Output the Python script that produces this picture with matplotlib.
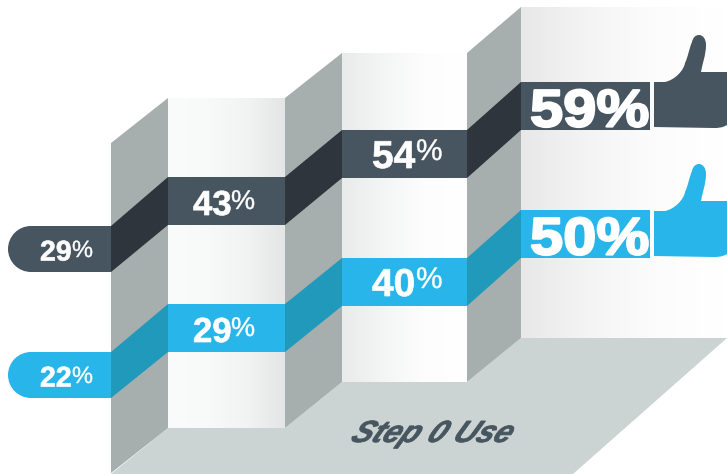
import matplotlib
matplotlib.use("Agg")
import matplotlib.pyplot as plt
import matplotlib.patheffects as pe
import numpy as np
from matplotlib.colors import LinearSegmentedColormap
from matplotlib.patches import Circle, PathPatch, Polygon, Rectangle
from matplotlib.path import Path
from matplotlib.transforms import Affine2D

# values, one per step
dark_labels = ["29", "43", "54", "59"]
light_labels = ["22", "29", "40", "50"]
category = "Step 0 Use"

dark = "#46555f"
dark_side = "#2e353d"
light = "#27b5ea"
light_side = "#2199bb"
wall = "#a6afad"
floor = "#ccd4d3"

# layout in pixels
col_x = [(168, 285), (342, 467), (521, 650)]
side_x = [(111, 168), (285, 342), (467, 521)]
top = [143, 98, 53, 7]
bottom = [473, 428, 382, 338]
dark_y = [226, 177, 130, 82]
light_y = [352, 304, 258, 210]
band_h = 48
text_x = [193, 372]
digit_pt = [25, 28]
pct_pt = [19.5, 21.5]

fig = plt.figure(figsize=(7.27, 4.75), dpi=100)
ax = fig.add_axes([0, 0, 1, 1])
ax.set_xlim(0, 727)
ax.set_ylim(475, 0)
ax.axis("off")


class Warp(pe.AbstractPathEffect):
    # fonts here are not as wide or as slanted as the ones in the picture
    def __init__(self, skew=0, xscale=1, stroke=0):
        super().__init__()
        self.skew = skew
        self.xscale = xscale
        self.stroke = stroke

    def draw_path(self, renderer, gc, tpath, affine, rgbFace=None):
        tr = Affine2D().scale(self.xscale, 1).skew_deg(self.skew, 0) + affine
        gc0 = renderer.new_gc()
        gc0.copy_properties(gc)
        gc0.set_linewidth(self.stroke)
        gc0.set_foreground(rgbFace)
        renderer.draw_path(gc0, tpath, tr, rgbFace)
        gc0.restore()


def gradient(x0, x1, y0, y1, colors):
    cmap = LinearSegmentedColormap.from_list("g", colors)
    ax.imshow(np.linspace(0, 1, 256).reshape(1, -1), cmap=cmap, aspect="auto",
              extent=(x0, x1, y1, y0), zorder=1)


# floor
ax.add_patch(Polygon([(111, 474), (168, 428), (285, 428), (342, 382), (467, 382), (521, 338),
                      (727, 338), (573, 474)], fc=floor, ec="none", zorder=1))

# white panels
gradient(168, 285, 98, 428, ["#fafbfb", "#f8f9f9", "#f2f3f3", "#e4e6e6"])
gradient(342, 467, 53, 382, ["#e9eaea", "#f4f5f5", "#fdfdfd", "#ffffff"])
gradient(521, 722, 7, 338, ["#e8e8e8", "#f4f4f4", "#fcfcfc", "#ffffff"])

# grey side panels
for i, (x0, x1) in enumerate(side_x):
    ax.add_patch(Polygon([(x0, top[i]), (x1, top[i + 1]), (x1, bottom[i + 1]), (x0, bottom[i])],
                         fc=wall, ec="none", zorder=2))

bold_up = [Warp(stroke=0.5)]
pct_up = [Warp(stroke=0.3)]


def draw_series(ys, front, side, labels):
    # pill on the left
    y = ys[0]
    ax.add_patch(Circle((31, y + 23), 23, fc=front, ec="none", zorder=3))
    ax.add_patch(Rectangle((31, y), 80, 46, fc=front, ec="none", zorder=3))
    ax.text(40, y + 34.5, labels[0], color="white", fontsize=20.5, family="Liberation Sans",
            weight="bold", ha="left", va="baseline", zorder=5, path_effects=bold_up)
    ax.text(72, y + 31, "%", color="white", fontsize=17, family="Liberation Sans",
            ha="left", va="baseline", zorder=5, path_effects=pct_up)
    # slanted bits and fronts
    for i, (x0, x1) in enumerate(side_x):
        h0 = 46 if i == 0 else band_h
        ax.add_patch(Polygon([(x0, ys[i]), (x1, ys[i + 1]), (x1, ys[i + 1] + band_h), (x0, ys[i] + h0)],
                             fc=side, ec="none", zorder=3))
    for i, (x0, x1) in enumerate(col_x):
        ax.add_patch(Rectangle((x0, ys[i + 1]), x1 - x0, band_h, fc=front, ec="none", zorder=3))
    for i in range(2):
        ax.text(text_x[i], ys[i + 1] + 38, labels[i + 1], color="white", fontsize=digit_pt[i],
                family="Liberation Sans", weight="bold", ha="left", va="baseline", zorder=5,
                path_effects=bold_up)
        ax.text(text_x[i] + 38 + 6 * i, ys[i + 1] + 32 - 2 * i, "%", color="white", fontsize=pct_pt[i],
                family="Liberation Sans", ha="left", va="baseline", zorder=5, path_effects=pct_up)
    ax.text(530, ys[3] + 44.5, labels[3] + "%", color="white", fontsize=38, family="Liberation Sans",
            weight="bold", ha="left", va="baseline", zorder=5,
            path_effects=[Warp(xscale=1.13, stroke=1.6)])


draw_series(dark_y, dark, dark_side, dark_labels)
draw_series(light_y, light, light_side, light_labels)


def thumb(dy, color):
    M, L, C, Z = Path.MOVETO, Path.LINETO, Path.CURVE4, Path.CLOSEPOLY
    pts = [(654, 82), (665, 82),
           (675, 80), (684, 70), (685, 63),
           (688, 57), (689, 49), (692, 42),
           (693, 37), (696, 35), (699, 35),
           (703, 35), (706, 39), (706, 45),
           (706, 55), (702, 65), (701, 72),
           (727, 72), (727, 125),
           (722, 128), (718, 128), (713, 128),
           (654, 127), (654, 82)]
    codes = [M, L, C, C, C, C, C, C, C, C, C, C, C, C, C, C, C, L, L, C, C, C, L, Z]
    pts = [(x, y + dy) for x, y in pts]
    ax.add_patch(PathPatch(Path(pts, codes), fc=color, ec="none", zorder=3))


thumb(0, dark)
thumb(129, light)

ax.text(349, 442, category, color=dark, fontsize=22, family="Liberation Sans", weight="bold",
        style="italic", ha="left", va="baseline", zorder=5,
        path_effects=[Warp(skew=28, xscale=1.02, stroke=0.6)])

ax.set_xlim(0, 727)
ax.set_ylim(475, 0)
fig.savefig("out.png", dpi=100)
